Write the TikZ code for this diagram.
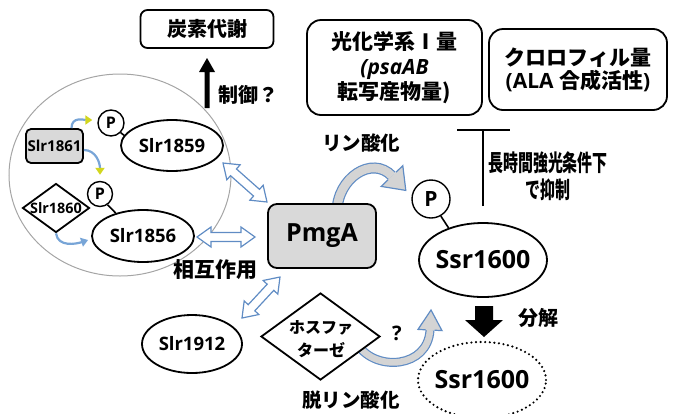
\documentclass[tikz,border=0pt]{standalone}
\usepackage{fontspec}
\usepackage{graphicx}
\setmainfont{Open Sans}
\newfontfamily\jp{Noto Sans CJK JP}
\usetikzlibrary{shapes.geometric,arrows.meta,calc}
\definecolor{boxgray}{RGB}{217,217,217}
\definecolor{arrblue}{RGB}{96,140,196}
\definecolor{bandfill}{RGB}{212,212,212}
\definecolor{ylw}{RGB}{210,214,30}
\definecolor{circgray}{RGB}{165,165,165}
\definecolor{thinblue}{RGB}{120,165,215}
\newcommand\fsz[1]{\fontsize{#1}{#1}\selectfont}
\newcommand\dblarrow[2]{%
  \path let \p1=($(#2)-(#1)$) in \pgfextra{%
    \pgfmathsetmacro\dAangTmp{atan2(\y1,\x1)}%
    \pgfmathsetmacro\dAlenTmp{veclen(\x1,\y1)}%
    \xdef\dAang{\dAangTmp}\xdef\dAlen{\dAlenTmp}};%
  \draw[dblarrowstyle, shift={(#1)}, rotate=\dAang]
    (0,0) -- (14,10) -- (14,4.5) -- (\dAlen-14,4.5) -- (\dAlen-14,10) -- (\dAlen,0)
    -- (\dAlen-14,-10) -- (\dAlen-14,-4.5) -- (14,-4.5) -- (14,-10) -- cycle;}
\tikzset{
  rbox/.style={draw, line width=1.8pt, align=center, inner sep=0pt},
  ell/.style={ellipse, draw, line width=1.8pt, inner sep=0pt, fill=white},
  pcirc/.style={circle, draw, line width=1.4pt, inner sep=0pt, fill=white},
  dblarrowstyle/.style={draw=arrblue, line width=1.2pt, fill=white, line join=miter},
  smallarr/.style={thinblue, line width=2.2pt},
  bandout/.style={arrblue},
  bandin/.style={bandfill},
  headline/.style={arrblue, line width=1.2pt, line join=miter},
}
\begin{document}
\begin{tikzpicture}[x=1pt,y=-1pt]
\useasboundingbox (0,0) rectangle (674,413);

% group outline
\node[ellipse, draw=circgray, line width=1pt, minimum width=222pt, minimum height=202pt, inner sep=0pt] (grp) at (120,175) {};

% curved band arrow: phosphorylation
\coordinate (phosS) at (337,212);
\coordinate (phosE) at (392,176);
\draw[bandout, line width=11pt] (phosS) .. controls (337,178) and (372,155) .. (phosE);
\draw[bandin, line width=8.6pt] (phosS) .. controls (337,178) and (372,155) .. (phosE);
\fill[bandfill] (402.8,165.7) -- (405.8,190.4) -- (381.2,186.4) -- cycle;
\draw[headline] (396,172.2) -- (402.8,165.7) -- (405.8,190.4) -- (381.2,186.4) -- (388,179.8);

% curved band arrow: dephosphorylation
\coordinate (dephS) at (358,345);
\coordinate (dephE) at (430,330);
\draw[bandout, line width=9pt] (dephS) .. controls (376,372) and (428,368) .. (dephE);
\draw[bandin, line width=6.6pt] (dephS) .. controls (376,372) and (428,368) .. (dephE);
\fill[bandfill] (442,330.6) -- (431,310) -- (418,329.4) -- cycle;
\draw[headline] (434.5,330.2) -- (442,330.6) -- (431,310) -- (418,329.4) -- (425.5,329.8);

% boxes
\node[rbox, rounded corners=7pt, minimum width=133pt, minimum height=38pt, font={\jp\bfseries\fsz{20}}] (carbon) at (207,29) {炭素代謝};
\node[rbox, rounded corners=14pt, minimum width=175pt, minimum height=95pt, font={\fontsize{21}{25}\selectfont}] (psi) at (394.5,67.5)
  {{\jp\bfseries 光化学系Ⅰ量}\\{\bfseries\itshape\fontsize{21}{25}\selectfont (psaAB}\\{\jp\bfseries 転写産物量)}};
\node[rbox, rounded corners=14pt, minimum width=178pt, minimum height=81pt, font={\fontsize{21}{23}\selectfont}] (chl) at (578,69.5)
  {{\jp\bfseries クロロフィル量}\\{\bfseries (ALA }{\jp\bfseries 合成活性}{\bfseries )}};

\node[rbox, rounded corners=9pt, fill=boxgray, minimum width=108pt, minimum height=64pt, font={\bfseries\fsz{25}}] (pmga) at (322,236) {PmgA};

\node[draw, line width=1.8pt, fill=boxgray, rounded corners=5pt, minimum width=57pt, minimum height=34pt, inner sep=0pt, font={\bfseries\fsz{15}}] (n1861) at (54.5,146) {Slr1861};
\node[diamond, draw, line width=1.8pt, fill=white, minimum width=67pt, minimum height=49pt, inner sep=0pt] (d1860) at (56,208) {};
\node[inner sep=0pt, font={\bfseries\fsz{14.4}}] (t1860) at (56,208) {Slr1860};

\node[diamond, draw, line width=1.8pt, fill=white, minimum width=119pt, minimum height=87pt, inner sep=0pt] (phos) at (320.5,336.5) {};
\node[inner sep=0pt, align=center, font={\jp\bfseries\fontsize{16}{23}\selectfont}] (phost) at (321,339) {ホスファ\\ターゼ};

% ellipses
\node[ell, minimum width=102pt, minimum height=51pt, font={\bfseries\fsz{18.5}}] (s1859) at (172,145.5) {Slr1859};
\node[ell, minimum width=102pt, minimum height=52pt, font={\bfseries\fsz{18.5}}] (s1856) at (143,236) {Slr1856};
\node[ell, minimum width=100pt, minimum height=58pt, font={\bfseries\fsz{18.5}}] (s1912) at (192,344) {Slr1912};
\node[ell, minimum width=128pt, minimum height=74pt, inner sep=-4pt, font={\bfseries\fsz{25}}] (ssr) at (483,260) {Ssr1600};
\node[ellipse, draw, line width=2.4pt, dash pattern=on 0pt off 4.6pt, line cap=round, minimum width=128pt, minimum height=76pt, inner sep=-4pt, font={\bfseries\fsz{25}}] (ssrd) at (482,380) {Ssr1600};

% P circles
\node[pcirc, minimum size=26pt, font={\bfseries\fsz{16}}] (p1) at (111,123) {P};
\node[pcirc, minimum size=25pt, font={\bfseries\fsz{16}}] (p2) at (100,194) {P};
\node[pcirc, minimum size=38pt, font={\bfseries\fsz{21}}] (p3) at (431,199) {P};
\draw[line width=1.6pt] (p1.-45) -- (s1859.168);
\draw[line width=1.6pt] (p2.-55) -- (s1856.140);
\draw[line width=1.6pt] (p3.-60) -- (ssr.137);

% small curved arrows
\draw[smallarr, -{Triangle[length=7pt,width=9pt,color=ylw]}] ([xshift=17pt]n1861.north) .. controls +(0,-12) and +(-8,0) .. ([shift={(-5pt,3pt)}]p1.west);
\draw[smallarr, -{Triangle[length=7pt,width=9pt,color=ylw]}] ([yshift=-4pt]n1861.east) .. controls +(12,0) and +(0,-12) .. ([yshift=6pt]p2.north);
\draw[smallarr, -{Triangle[length=7pt,width=9pt,color=thinblue]}] (d1860.south) .. controls +(2,14) and +(-12,4) .. ([shift={(-3pt,-4pt)}]s1856.west);

% double arrows (interaction)
\coordinate (i1a) at (223,163); \coordinate (i1b) at (267,202);
\coordinate (i2a) at (197,237); \coordinate (i2b) at (255,237);
\coordinate (i3a) at (242,318); \coordinate (i3b) at (280,277);
\dblarrow{i1a}{i1b}
\dblarrow{i2a}{i2b}
\dblarrow{i3a}{i3b}

% block arrows
\coordinate (ctail) at (207,108);
\fill (204.5,108) -- (209.5,108) -- (209.5,72) -- (215,72) -- (207,58) -- (199,72) -- (204.5,72) -- cycle;
\coordinate (degtop) at (484,306);
\fill (475,306) -- (493,306) -- (493,320) -- (503,320) -- (484,337) -- (465,320) -- (475,320) -- cycle;

% inhibition
\coordinate (tb) at (483,130);
\coordinate (tf) at (483,206);
\draw[line width=2pt] (tf) -- (tb);
\draw[line width=2pt] ([xshift=-26pt]tb) -- ([xshift=27pt]tb);

% labels
\node[font={\jp\bfseries\fsz{20}}] (ctrl) at (248,95) {制御？};
\node[font={\jp\bfseries\fsz{21}}] (inter) at (215,270) {相互作用};
\node[font={\jp\bfseries\fsz{19.5}}] (phoslbl) at (361,143) {リン酸化};
\node[font={\jp\bfseries\fsz{19.5}}] (dephlbl) at (351,400) {脱リン酸化};
\node[font={\bfseries\fsz{20}}] (q) at (397,333) {?};
\node[font={\jp\bfseries\fsz{20}}] (deg) at (538,318) {分解};
\node[align=center, font={\jp\bfseries\fontsize{23}{27}\selectfont}] (cond) at (548,176.5) {\scalebox{0.65}[1]{長時間強光条件下}\\\scalebox{0.65}[1]{で抑制}};
\end{tikzpicture}
\end{document}
